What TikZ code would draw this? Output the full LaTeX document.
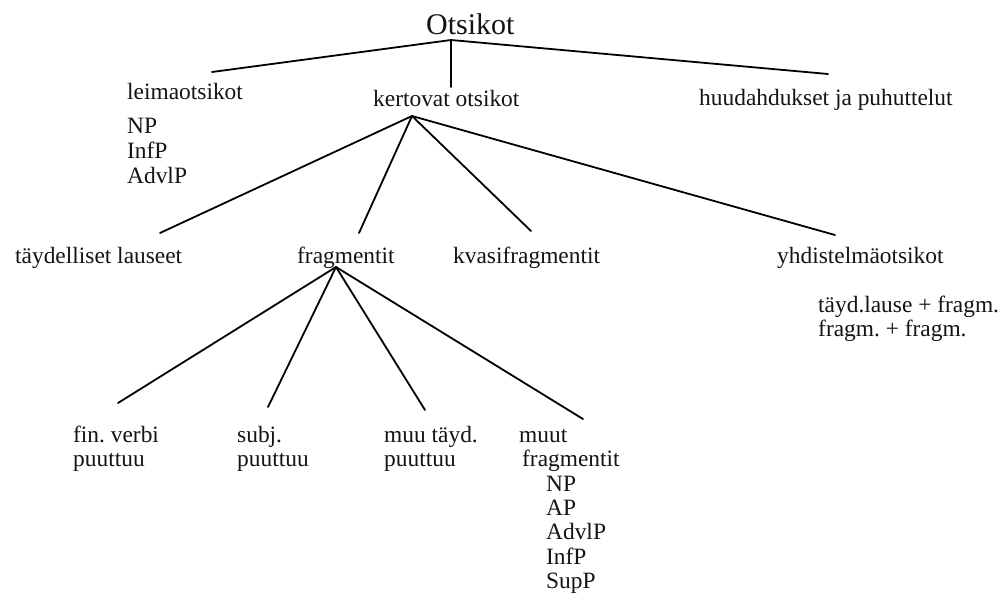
\documentclass[tikz,border=0pt]{standalone}
\usepackage{fontspec}
\setmainfont{Liberation Serif}
\begin{document}
\frenchspacing
\begin{tikzpicture}[x=1pt,y=-1pt,
  lbl/.style={anchor=base west,inner sep=0pt,font=\fontsize{23.4}{25}\selectfont,text=black!92},
  ttl/.style={lbl,font=\fontsize{30}{32}\selectfont},
  ln/.style={line width=1.8pt,line cap=round,black}]
\useasboundingbox[fill=white] (0,0) rectangle (1002,595);
% texts
\node[ttl] (root) at (426,34) {Otsikot};
\node[lbl] (leima) at (127,99) {leimaotsikot};
\node[lbl] (l1) at (127,133) {NP};
\node[lbl] (l2) at (127,158) {InfP};
\node[lbl] (l3) at (127,183) {AdvlP};
\node[lbl] (kert) at (373,106) {kertovat otsikot};
\node[lbl] (huud) at (699,105) {huudahdukset ja puhuttelut};
\node[lbl] (tayd) at (15,263) {täydelliset lauseet};
\node[lbl] (frag) at (297,263) {fragmentit};
\node[lbl] (kvasi) at (453,263) {kvasifragmentit};
\node[lbl] (yhd) at (777,263) {yhdistelmäotsikot};
\node[lbl] (y1) at (818,312) {täyd.lause + fragm.};
\node[lbl] (y2) at (818,336) {fragm. + fragm.};
\node[lbl] (fin1) at (73,442) {fin. verbi};
\node[lbl] (fin2) at (73,466) {puuttuu};
\node[lbl] (subj1) at (237,442) {subj.};
\node[lbl] (subj2) at (237,466) {puuttuu};
\node[lbl] (muu1) at (384,442) {muu täyd.};
\node[lbl] (muu2) at (384,466) {puuttuu};
\node[lbl] (muut1) at (519,442) {muut};
\node[lbl] (muut2) at (522,466) {fragmentit};
\node[lbl] (m1) at (546,491) {NP};
\node[lbl] (m2) at (546,515) {AP};
\node[lbl] (m3) at (546,539) {AdvlP};
\node[lbl] (m4) at (546,564) {InfP};
\node[lbl] (m5) at (546,588) {SupP};
% connector points
\coordinate (rJ) at (451,40);
\coordinate (rL) at (212,72);
\coordinate (rD) at (451,87);
\coordinate (rR) at (828,74);
\coordinate (kJ) at (412,116);
\coordinate (kT) at (160,233);
\coordinate (kF) at (359,233);
\coordinate (kK) at (531,231);
\coordinate (kY) at (835,235);
\coordinate (fJ) at (336,267);
\coordinate (fA) at (118,403);
\coordinate (fB) at (268,407);
\coordinate (fC) at (425,410);
\coordinate (fD) at (583,419);
% connectors
\draw[ln] (rJ) -- (rL);
\draw[ln] (rJ) -- (rD);
\draw[ln] (rJ) -- (rR);
\draw[ln] (kJ) -- (kT);
\draw[ln] (kJ) -- (kF);
\draw[ln] (kJ) -- (kK);
\draw[ln] (kJ) -- (kY);
\draw[ln] (fJ) -- (fA);
\draw[ln] (fJ) -- (fB);
\draw[ln] (fJ) -- (fC);
\draw[ln] (fJ) -- (fD);
\end{tikzpicture}
\end{document}
